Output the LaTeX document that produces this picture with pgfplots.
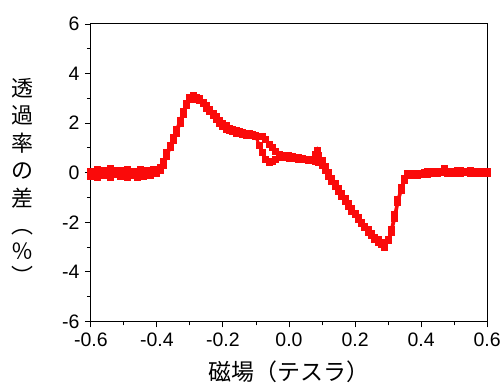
\documentclass[border=0pt]{standalone}
\usepackage{pgfplots}
\pgfplotsset{compat=1.18}
\usepackage{fontspec}
\setmainfont{Liberation Sans}
\newfontfamily\jp{Noto Sans CJK JP}
\definecolor{dotred}{RGB}{250,10,10}
\begin{document}
\begin{tikzpicture}
\begin{axis}[
  scale only axis, width=397pt, height=298pt,
  xmin=-0.6, xmax=0.6, ymin=-6, ymax=6,
  xtick={-0.6,-0.4,-0.2,0,0.2,0.4,0.6},
  xticklabels={-0.6,-0.4,-0.2,0.0,0.2,0.4,0.6},
  ytick={-6,-4,-2,0,2,4,6},
  minor x tick num=1, minor y tick num=1,
  tick align=outside, xtick pos=bottom, ytick pos=left,
  major tick length=6pt, minor tick length=4pt,
  every tick/.style={black, line width=0.9pt},
  axis line style={line width=1pt},
  /pgf/number format/assume math mode=true,
  ticklabel style={font=\fontsize{19.5}{22}\selectfont},
  xticklabel style={yshift=-2pt},
  yticklabel style={xshift=-2pt},
  xlabel={\jp 磁場（テスラ）},
  xlabel style={at={(axis description cs:0.5,0)}, anchor=center, yshift=-50pt, font=\fontsize{23}{26}\selectfont},
  clip=false,
]
\addplot[dotred, line width=3pt, mark=square*, mark size=2pt, mark options={solid}] coordinates {
(-0.60,0.05) (-0.59,-0.10) (-0.58,0.12) (-0.57,-0.05) (-0.56,0.08) (-0.55,-0.12) (-0.54,0.15) (-0.53,0.02) (-0.52,-0.08) (-0.51,0.10)
(-0.50,-0.05) (-0.49,0.12) (-0.48,-0.10) (-0.47,0.05) (-0.46,-0.03) (-0.45,0.14) (-0.44,-0.06) (-0.43,0.08) (-0.42,0.00) (-0.41,0.12)
(-0.40,0.05) (-0.39,0.20) (-0.38,0.45) (-0.37,0.80) (-0.36,1.10) (-0.35,1.40) (-0.34,1.75) (-0.33,2.10) (-0.32,2.45) (-0.31,2.80)
(-0.30,3.05) (-0.29,3.10) (-0.28,3.05) (-0.27,3.00) (-0.26,2.85) (-0.25,2.70) (-0.24,2.55) (-0.23,2.40) (-0.22,2.25) (-0.21,2.10)
(-0.20,2.00) (-0.19,1.90) (-0.18,1.80) (-0.17,1.75) (-0.16,1.70) (-0.15,1.65) (-0.14,1.62) (-0.13,1.60) (-0.12,1.58) (-0.11,1.55)
(-0.10,1.50) (-0.09,1.48) (-0.08,1.45) (-0.07,1.35) (-0.06,1.15) (-0.05,1.00) (-0.04,0.85) (-0.03,0.75) (-0.02,0.70) (-0.01,0.70)
(0.00,0.68) (0.01,0.65) (0.02,0.63) (0.03,0.60) (0.04,0.58) (0.05,0.55) (0.06,0.52) (0.07,0.50) (0.08,0.45) (0.09,0.40)
(0.10,0.30) (0.11,0.10) (0.12,-0.15) (0.13,-0.35) (0.14,-0.55) (0.15,-0.75) (0.16,-0.95) (0.17,-1.15) (0.18,-1.35) (0.19,-1.55)
(0.20,-1.70) (0.21,-1.90) (0.22,-2.05) (0.23,-2.20) (0.24,-2.40) (0.25,-2.55) (0.26,-2.70) (0.27,-2.80) (0.28,-2.90) (0.29,-3.00)
(0.30,-2.75) (0.31,-2.30) (0.32,-1.70) (0.33,-1.10) (0.34,-0.60) (0.35,-0.25) (0.36,-0.10) (0.37,-0.12) (0.38,-0.08) (0.39,-0.10)
(0.40,-0.05) (0.41,0.02) (0.42,-0.06) (0.43,0.05) (0.44,-0.02) (0.45,0.06) (0.46,0.00) (0.47,0.08) (0.48,-0.04) (0.49,0.05)
(0.50,0.02) (0.51,0.10) (0.52,-0.03) (0.53,0.06) (0.54,0.00) (0.55,0.08) (0.56,-0.05) (0.57,0.04) (0.58,0.00) (0.59,0.06) (0.60,-0.02)
};
\addplot[dotred, line width=3pt, mark=square*, mark size=2pt, mark options={solid}] coordinates {
(-0.60,-0.15) (-0.59,0.05) (-0.58,-0.20) (-0.57,0.00) (-0.56,-0.12) (-0.55,0.08) (-0.54,-0.18) (-0.53,-0.05) (-0.52,0.10) (-0.51,-0.15)
(-0.50,-0.02) (-0.49,-0.20) (-0.48,0.06) (-0.47,-0.12) (-0.46,-0.18) (-0.45,0.02) (-0.44,-0.15) (-0.43,-0.05) (-0.42,-0.12) (-0.41,0.05)
(-0.40,-0.05) (-0.39,0.10) (-0.38,0.30) (-0.37,0.65) (-0.36,1.00) (-0.35,1.30) (-0.34,1.60) (-0.33,2.00) (-0.32,2.35) (-0.31,2.70)
(-0.30,2.95) (-0.29,3.00) (-0.28,2.95) (-0.27,2.90) (-0.26,2.80) (-0.25,2.60) (-0.24,2.45) (-0.23,2.30) (-0.22,2.15) (-0.21,2.00)
(-0.20,1.85) (-0.19,1.75) (-0.18,1.70) (-0.17,1.65) (-0.16,1.60) (-0.15,1.58) (-0.14,1.55) (-0.13,1.50) (-0.12,1.52) (-0.11,1.50)
(-0.10,1.45) (-0.09,1.10) (-0.08,0.80) (-0.07,0.55) (-0.06,0.40) (-0.05,0.45) (-0.04,0.55) (-0.03,0.60) (-0.02,0.62) (-0.01,0.60)
(0.00,0.58) (0.01,0.60) (0.02,0.58) (0.03,0.55) (0.04,0.55) (0.05,0.52) (0.06,0.50) (0.07,0.55) (0.08,0.75) (0.085,0.90) (0.09,0.70)
(0.10,0.50) (0.11,0.25) (0.12,0.00) (0.13,-0.25) (0.14,-0.45) (0.15,-0.65) (0.16,-0.85) (0.17,-1.05) (0.18,-1.25) (0.19,-1.45)
(0.20,-1.65) (0.21,-1.80) (0.22,-2.00) (0.23,-2.15) (0.24,-2.30) (0.25,-2.45) (0.26,-2.60) (0.27,-2.70) (0.28,-2.80) (0.29,-2.85)
(0.30,-2.70) (0.31,-2.40) (0.32,-1.85) (0.33,-1.20) (0.34,-0.70) (0.35,-0.30) (0.36,-0.05) (0.37,-0.05) (0.38,-0.12) (0.39,-0.02)
(0.40,-0.08) (0.41,-0.03) (0.42,0.04) (0.43,-0.05) (0.44,0.03) (0.45,-0.04) (0.46,0.05) (0.47,0.18) (0.48,0.02) (0.49,-0.03)
(0.50,0.04) (0.51,-0.02) (0.52,0.08) (0.53,0.00) (0.54,0.05) (0.55,-0.02) (0.56,0.06) (0.57,-0.04) (0.58,0.05) (0.59,-0.03) (0.60,0.03)
};
\end{axis}
\node[font={\jp\fontsize{22}{27.5}\selectfont}, align=center, anchor=north] at ([xshift=-68pt, yshift=-51pt]current axis.north west) {透\\過\\率\\の\\差\\︵\\[-2pt]％\\[-2pt]︶};
\useasboundingbox ([xshift=-91pt,yshift=-67pt]current axis.south west) rectangle ([xshift=16pt,yshift=24pt]current axis.north east);
\end{tikzpicture}
\end{document}
